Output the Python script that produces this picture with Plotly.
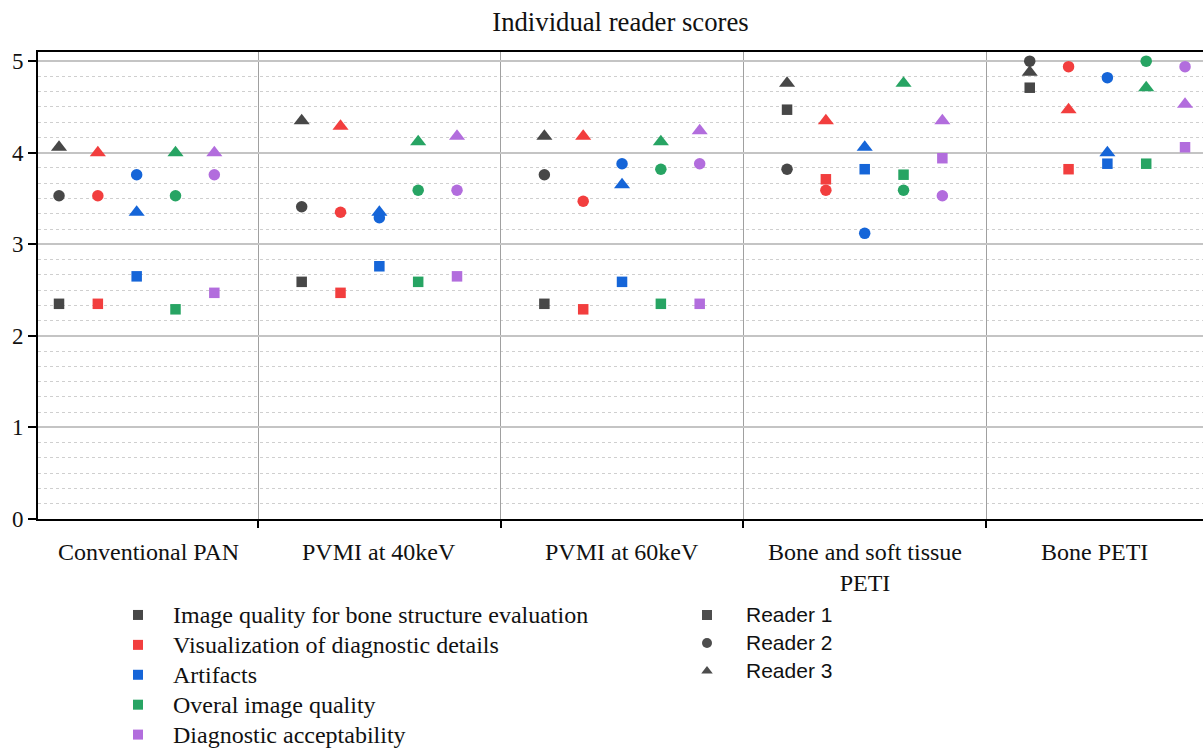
import plotly.graph_objects as go

categories = ["Conventional PAN", "PVMI at 40keV", "PVMI at 60keV",
              "Bone and soft tissue PETI", "Bone PETI"]
category_labels = ["Conventional PAN", "PVMI at 40keV", "PVMI at 60keV",
                   "Bone and soft tissue<br>PETI", "Bone PETI"]
metrics = ["Image quality for bone structure evaluation",
           "Visualization of diagnostic details",
           "Artifacts",
           "Overal image quality",
           "Diagnostic acceptability"]
readers = ["Reader 1", "Reader 2", "Reader 3"]

# scores[metric][reader] -> values per category
image_quality = [[2.35, 2.59, 2.35, 4.47, 4.71],
                 [3.53, 3.41, 3.76, 3.82, 5.00],
                 [4.06, 4.35, 4.18, 4.76, 4.88]]
visualization = [[2.35, 2.47, 2.29, 3.71, 3.82],
                 [3.53, 3.35, 3.47, 3.59, 4.94],
                 [4.00, 4.29, 4.18, 4.35, 4.47]]
artifacts = [[2.65, 2.76, 2.59, 3.82, 3.88],
             [3.76, 3.29, 3.88, 3.12, 4.82],
             [3.35, 3.35, 3.65, 4.06, 4.00]]
overall_quality = [[2.29, 2.59, 2.35, 3.76, 3.88],
                   [3.53, 3.59, 3.82, 3.59, 5.00],
                   [4.00, 4.12, 4.12, 4.76, 4.71]]
acceptability = [[2.47, 2.65, 2.35, 3.94, 4.06],
                 [3.76, 3.59, 3.88, 3.53, 4.94],
                 [4.00, 4.18, 4.24, 4.35, 4.53]]

scores = [image_quality, visualization, artifacts, overall_quality, acceptability]
metric_colors = ["#474747", "#f23e3e", "#1565d8", "#27a463", "#b26ddd"]
reader_symbols = ["square", "circle", "triangle-up"]
reader_sizes = [10.5, 11.5, 14]

y_ticks = [0, 1, 2, 3, 4, 5]

SERIF = "Liberation Serif, Times New Roman, serif"
SANS = "Liberation Sans, Arial, sans-serif"

fig = go.Figure()

for r, reader in enumerate(readers):
    for m, metric in enumerate(metrics):
        fig.add_trace(go.Scatter(
            x=categories, y=scores[m][r], mode="markers",
            offsetgroup=metric, showlegend=False,
            marker=dict(symbol=reader_symbols[r], size=reader_sizes[r],
                        color=metric_colors[m], line=dict(width=0)),
            name=f"{metric} - {reader}"))

# legend entries
for m, metric in enumerate(metrics):
    fig.add_trace(go.Scatter(
        x=[None], y=[None], mode="markers", legend="legend",
        name=f'<span style="font-size:24px">{metric}</span>',
        marker=dict(symbol="square", size=10, color=metric_colors[m])))
for r, reader in enumerate(readers):
    fig.add_trace(go.Scatter(
        x=[None], y=[None], mode="markers", legend="legend2",
        name=f'<span style="font-size:21px">{reader}</span>',
        marker=dict(symbol=reader_symbols[r], size=10, color="#4d4d4d")))

x_lo, x_hi = -0.4066, 4.394
W, H = 1203, 748
ml, mr, mt, mb = 38, 0, 52, 229
pw = W - ml - mr
ph = H - mt - mb

annotations = []
for i, lab in enumerate(category_labels):
    lo = max(i - 0.5, x_lo)
    hi = min(i + 0.5, x_hi)
    annotations.append(dict(
        x=(lo + hi) / 2, xref="x", y=-18 / ph, yref="paper",
        text=lab, showarrow=False, xanchor="center", yanchor="top",
        font=dict(family=SERIF, size=24, color="#111111")))

fig.update_layout(
    template="none",
    width=W, height=H,
    margin=dict(l=ml, r=mr, t=mt, b=mb, autoexpand=False),
    paper_bgcolor="white", plot_bgcolor="white",
    scattermode="group", scattergap=0.2,
    title=dict(text="Individual reader scores", x=0.5, xref="paper",
               y=1 - 22 / H, yref="container", yanchor="middle", xanchor="center",
               font=dict(family=SERIF, size=26.7, color="#111111")),
    xaxis=dict(type="category", range=[x_lo, x_hi], tickson="boundaries",
               automargin=False,
               showgrid=True, gridcolor="#a0a0a0", gridwidth=1,
               showline=True, linecolor="black", linewidth=2, mirror=True,
               ticks="outside", ticklen=7, tickwidth=2, tickcolor="black",
               showticklabels=False, zeroline=False),
    yaxis=dict(range=[0, 5.1], tickvals=y_ticks, ticktext=[str(v) for v in y_ticks],
               automargin=False,
               showgrid=True, gridcolor="#c4c4c4", gridwidth=1.5,
               showline=True, linecolor="black", linewidth=2,
               ticks="outside", ticklen=8, tickwidth=2, tickcolor="black",
               zeroline=False,
               tickfont=dict(family=SERIF, size=23, color="#111111"),
               minor=dict(dtick=1 / 6, tick0=0, showgrid=True, griddash="dot",
                          gridcolor="#cfcfcf", gridwidth=1, ticks="")),
    legend=dict(x=103 / W, xref="container", xanchor="left",
                y=1 - 595 / H, yref="container", yanchor="top",
                font=dict(family=SERIF, size=20.7, color="#111111"),
                itemwidth=60, bgcolor="rgba(0,0,0,0)", tracegroupgap=0),
    legend2=dict(x=668 / W, xref="container", xanchor="left",
                 y=1 - 596 / H, yref="container", yanchor="top",
                 font=dict(family=SANS, size=19.2, color="#111111"),
                 itemwidth=68, bgcolor="rgba(0,0,0,0)", tracegroupgap=0),
    annotations=annotations,
)

fig.write_html("out.html", config={"displayModeBar": False},
               post_script="document.body.style.margin='0';document.body.style.overflow='hidden';")
